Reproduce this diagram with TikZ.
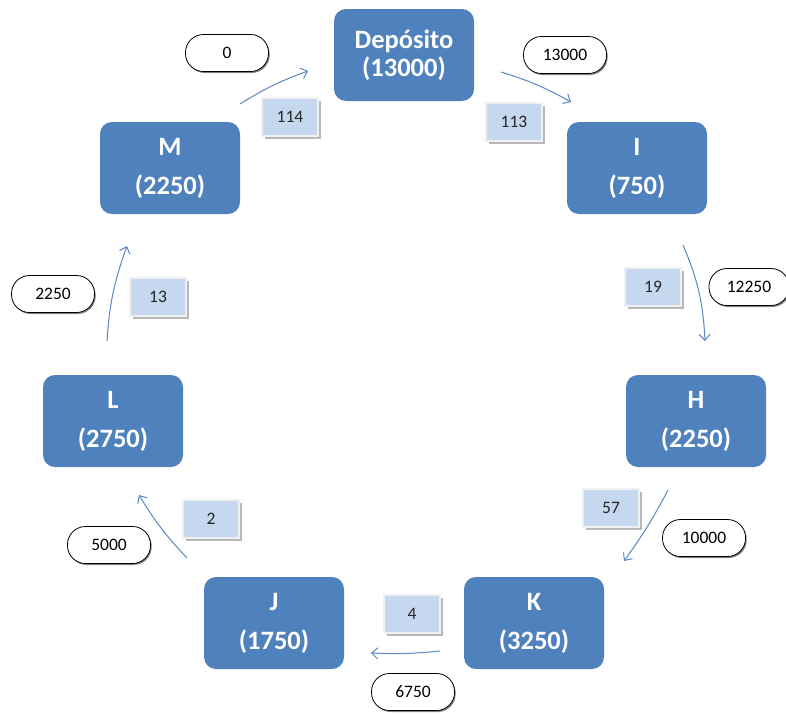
\documentclass[tikz,border=0pt]{standalone}
\usepackage{fontspec}
\setmainfont{Carlito}
\usetikzlibrary{arrows.meta,shadows}
\definecolor{stopblue}{HTML}{4F81BD}
\definecolor{tagblue}{HTML}{C6D8F0}
\definecolor{flowblue}{HTML}{5A86C2}
\begin{document}
\begin{tikzpicture}[x=1pt,y=-1pt,
  stopbox/.style={fill=stopblue, draw=none, rounded corners=12pt,
    minimum width=140pt, minimum height=92pt, text=white, align=center,
    font=\bfseries\fontsize{26.5}{28}\selectfont},
  tagbox/.style={fill=tagblue, draw=white!88!gray, line width=1.6pt,
    minimum width=56pt, minimum height=38pt, text=black!85,
    font=\fontsize{17.5}{20}\selectfont,
    drop shadow={shadow xshift=3pt, shadow yshift=-3pt, fill=gray!70, opacity=0.8}},
  pill/.style={fill=white, draw=black, line width=0.8pt, rounded corners=18pt,
    minimum width=83pt, minimum height=37pt, text=black,
    font=\fontsize{17.5}{20}\selectfont,
    drop shadow={shadow xshift=1.2pt, shadow yshift=-1.5pt, fill=black!55, opacity=0.9}},
  flow/.style={draw=flowblue, line width=1pt, -{Straight Barb[length=6pt,width=11pt]}}
]
\useasboundingbox (0,0) rectangle (786,713);

% stops on the route
\node[stopbox] (dep) at (404,55) {Depósito\\(13000)};
\node[stopbox] (nI) at (637,168) {I\\[11pt](750)};
\node[stopbox] (nH) at (696,421) {H\\[11pt](2250)};
\node[stopbox] (nK) at (534,623) {K\\[11pt](3250)};
\node[stopbox] (nJ) at (274,623) {J\\[11pt](1750)};
\node[stopbox] (nL) at (113,421) {L\\[11pt](2750)};
\node[stopbox] (nM) at (170,168) {M\\[11pt](2250)};

% arc costs
\node[tagbox] (t114) at (290,117) {114};
\node[tagbox] (t113) at (514,122) {113};
\node[tagbox] (t19) at (653,287) {19};
\node[tagbox] (t57) at (611,508) {57};
\node[tagbox] (t4) at (412,614) {4};
\node[tagbox] (t2) at (211,519) {2};
\node[tagbox] (t13) at (158,297) {13};

% load carried on each arc
\node[pill] (p0) at (227,53) {0};
\node[pill] (p13000) at (565,55) {13000};
\node[pill, minimum width=80pt] (p12250) at (749,287) {12250};
\node[pill] (p10000) at (704,538) {10000};
\node[pill] (p6750) at (413,692) {6750};
\node[pill] (p5000) at (109,545) {5000};
\node[pill] (p2250) at (53,294) {2250};

% arrow ends
\coordinate (mds) at (240,104);  \coordinate (mde) at (308,71);
\coordinate (dis) at (501,72);   \coordinate (die) at (571,102);
\coordinate (ihs) at (683,245);  \coordinate (ihe) at (705,341);
\coordinate (hks) at (668,490);  \coordinate (hke) at (624,561);
\coordinate (kjs) at (440,651);  \coordinate (kje) at (371,653);
\coordinate (jls) at (187,558);  \coordinate (jle) at (139,495);
\coordinate (lms) at (107,341);  \coordinate (lme) at (127,246);

\draw[flow] (mds) to[bend left=6] (mde);
\draw[flow] (dis) to[bend left=6] (die);
\draw[flow] (ihs) to[bend left=10] (ihe);
\draw[flow] (hks) to[bend left=4] (hke);
\draw[flow] (kjs) to[bend left=4] (kje);
\draw[flow] (jls) to[bend left=6] (jle);
\draw[flow] (lms) to[bend left=8] (lme);
\end{tikzpicture}
\end{document}
